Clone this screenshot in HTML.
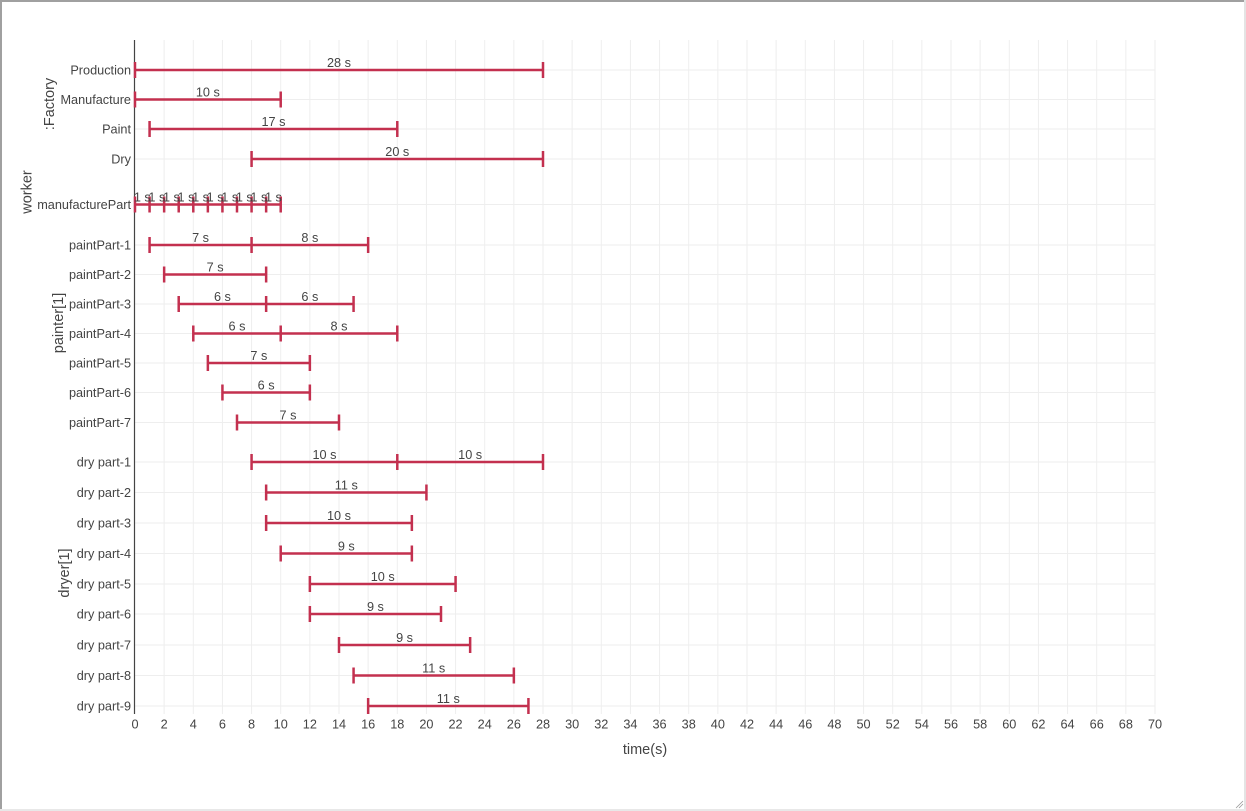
<!DOCTYPE html>
<html><head><meta charset="utf-8">
<style>
html,body{margin:0;padding:0;background:#fff;}
body{width:1246px;height:811px;overflow:hidden;position:relative;}
svg{position:absolute;left:0;top:0;}
text{font-family:"Liberation Sans","DejaVu Sans",sans-serif;fill:#444;}
</style></head>
<body>
<svg width="1246" height="811" viewBox="0 0 1246 811" xmlns="http://www.w3.org/2000/svg">
<rect x="0" y="0" width="1246" height="811" fill="#fff"/>
<!-- borders -->
<rect x="0" y="0" width="1246" height="2" fill="#a0a0a0"/>
<rect x="0" y="0" width="2" height="811" fill="#a0a0a0"/>
<rect x="1244" y="0" width="2" height="811" fill="#e4e4e4"/>
<rect x="0" y="809" width="1246" height="2" fill="#e8e8e8"/>
<line x1="1236" y1="808" x2="1243" y2="801" stroke="#999" stroke-width="0.8"/>
<line x1="1239" y1="808" x2="1243" y2="804" stroke="#999" stroke-width="0.8"/>

<!-- vertical gridlines -->
<g stroke="#eeeeee" stroke-width="1">
<line x1="164.14" y1="40" x2="164.14" y2="714"/>
<line x1="193.29" y1="40" x2="193.29" y2="714"/>
<line x1="222.43" y1="40" x2="222.43" y2="714"/>
<line x1="251.57" y1="40" x2="251.57" y2="714"/>
<line x1="280.71" y1="40" x2="280.71" y2="714"/>
<line x1="309.86" y1="40" x2="309.86" y2="714"/>
<line x1="339" y1="40" x2="339" y2="714"/>
<line x1="368.14" y1="40" x2="368.14" y2="714"/>
<line x1="397.29" y1="40" x2="397.29" y2="714"/>
<line x1="426.43" y1="40" x2="426.43" y2="714"/>
<line x1="455.57" y1="40" x2="455.57" y2="714"/>
<line x1="484.71" y1="40" x2="484.71" y2="714"/>
<line x1="513.86" y1="40" x2="513.86" y2="714"/>
<line x1="543" y1="40" x2="543" y2="714"/>
<line x1="572.14" y1="40" x2="572.14" y2="714"/>
<line x1="601.29" y1="40" x2="601.29" y2="714"/>
<line x1="630.43" y1="40" x2="630.43" y2="714"/>
<line x1="659.57" y1="40" x2="659.57" y2="714"/>
<line x1="688.71" y1="40" x2="688.71" y2="714"/>
<line x1="717.86" y1="40" x2="717.86" y2="714"/>
<line x1="747" y1="40" x2="747" y2="714"/>
<line x1="776.14" y1="40" x2="776.14" y2="714"/>
<line x1="805.29" y1="40" x2="805.29" y2="714"/>
<line x1="834.43" y1="40" x2="834.43" y2="714"/>
<line x1="863.57" y1="40" x2="863.57" y2="714"/>
<line x1="892.71" y1="40" x2="892.71" y2="714"/>
<line x1="921.86" y1="40" x2="921.86" y2="714"/>
<line x1="951" y1="40" x2="951" y2="714"/>
<line x1="980.14" y1="40" x2="980.14" y2="714"/>
<line x1="1009.29" y1="40" x2="1009.29" y2="714"/>
<line x1="1038.43" y1="40" x2="1038.43" y2="714"/>
<line x1="1067.57" y1="40" x2="1067.57" y2="714"/>
<line x1="1096.71" y1="40" x2="1096.71" y2="714"/>
<line x1="1125.86" y1="40" x2="1125.86" y2="714"/>
<line x1="1155" y1="40" x2="1155" y2="714"/>
</g>
<!-- horizontal gridlines -->
<g stroke="#eeeeee" stroke-width="1">
<line x1="135" y1="70" x2="1155" y2="70"/>
<line x1="135" y1="99.5" x2="1155" y2="99.5"/>
<line x1="135" y1="129" x2="1155" y2="129"/>
<line x1="135" y1="159" x2="1155" y2="159"/>
<line x1="135" y1="204.5" x2="1155" y2="204.5"/>
<line x1="135" y1="245" x2="1155" y2="245"/>
<line x1="135" y1="274.5" x2="1155" y2="274.5"/>
<line x1="135" y1="304" x2="1155" y2="304"/>
<line x1="135" y1="333.5" x2="1155" y2="333.5"/>
<line x1="135" y1="363" x2="1155" y2="363"/>
<line x1="135" y1="392.5" x2="1155" y2="392.5"/>
<line x1="135" y1="422.5" x2="1155" y2="422.5"/>
<line x1="135" y1="462" x2="1155" y2="462"/>
<line x1="135" y1="492.5" x2="1155" y2="492.5"/>
<line x1="135" y1="523" x2="1155" y2="523"/>
<line x1="135" y1="553.5" x2="1155" y2="553.5"/>
<line x1="135" y1="584" x2="1155" y2="584"/>
<line x1="135" y1="614" x2="1155" y2="614"/>
<line x1="135" y1="645" x2="1155" y2="645"/>
<line x1="135" y1="675.5" x2="1155" y2="675.5"/>
<line x1="135" y1="706" x2="1155" y2="706"/>
</g>

<!-- y axis line -->
<line x1="134.5" y1="40" x2="134.5" y2="714" stroke="#444" stroke-width="1.2"/>

<!-- bars -->
<g stroke="#c3304f" stroke-width="2.5" fill="none">
<line x1="135" y1="70" x2="543" y2="70"/><line x1="135" y1="62" x2="135" y2="78"/><line x1="543" y1="62" x2="543" y2="78"/>
<line x1="135" y1="99.5" x2="280.71" y2="99.5"/><line x1="135" y1="91.5" x2="135" y2="107.5"/><line x1="280.71" y1="91.5" x2="280.71" y2="107.5"/>
<line x1="149.57" y1="129" x2="397.29" y2="129"/><line x1="149.57" y1="121" x2="149.57" y2="137"/><line x1="397.29" y1="121" x2="397.29" y2="137"/>
<line x1="251.57" y1="159" x2="543" y2="159"/><line x1="251.57" y1="151" x2="251.57" y2="167"/><line x1="543" y1="151" x2="543" y2="167"/>
<line x1="135" y1="204.5" x2="280.71" y2="204.5"/>
<line x1="135" y1="196.5" x2="135" y2="212.5"/>
<line x1="149.57" y1="196.5" x2="149.57" y2="212.5"/>
<line x1="164.14" y1="196.5" x2="164.14" y2="212.5"/>
<line x1="178.71" y1="196.5" x2="178.71" y2="212.5"/>
<line x1="193.29" y1="196.5" x2="193.29" y2="212.5"/>
<line x1="207.86" y1="196.5" x2="207.86" y2="212.5"/>
<line x1="222.43" y1="196.5" x2="222.43" y2="212.5"/>
<line x1="237" y1="196.5" x2="237" y2="212.5"/>
<line x1="251.57" y1="196.5" x2="251.57" y2="212.5"/>
<line x1="266.14" y1="196.5" x2="266.14" y2="212.5"/>
<line x1="280.71" y1="196.5" x2="280.71" y2="212.5"/>
<line x1="149.57" y1="245" x2="368.14" y2="245"/><line x1="149.57" y1="237" x2="149.57" y2="253"/><line x1="251.57" y1="237" x2="251.57" y2="253"/><line x1="368.14" y1="237" x2="368.14" y2="253"/>
<line x1="164.14" y1="274.5" x2="266.14" y2="274.5"/><line x1="164.14" y1="266.5" x2="164.14" y2="282.5"/><line x1="266.14" y1="266.5" x2="266.14" y2="282.5"/>
<line x1="178.71" y1="304" x2="353.57" y2="304"/><line x1="178.71" y1="296" x2="178.71" y2="312"/><line x1="266.14" y1="296" x2="266.14" y2="312"/><line x1="353.57" y1="296" x2="353.57" y2="312"/>
<line x1="193.29" y1="333.5" x2="397.29" y2="333.5"/><line x1="193.29" y1="325.5" x2="193.29" y2="341.5"/><line x1="280.71" y1="325.5" x2="280.71" y2="341.5"/><line x1="397.29" y1="325.5" x2="397.29" y2="341.5"/>
<line x1="207.86" y1="363" x2="309.86" y2="363"/><line x1="207.86" y1="355" x2="207.86" y2="371"/><line x1="309.86" y1="355" x2="309.86" y2="371"/>
<line x1="222.43" y1="392.5" x2="309.86" y2="392.5"/><line x1="222.43" y1="384.5" x2="222.43" y2="400.5"/><line x1="309.86" y1="384.5" x2="309.86" y2="400.5"/>
<line x1="237" y1="422.5" x2="339" y2="422.5"/><line x1="237" y1="414.5" x2="237" y2="430.5"/><line x1="339" y1="414.5" x2="339" y2="430.5"/>
<line x1="251.57" y1="462" x2="543" y2="462"/><line x1="251.57" y1="454" x2="251.57" y2="470"/><line x1="397.29" y1="454" x2="397.29" y2="470"/><line x1="543" y1="454" x2="543" y2="470"/>
<line x1="266.14" y1="492.5" x2="426.43" y2="492.5"/><line x1="266.14" y1="484.5" x2="266.14" y2="500.5"/><line x1="426.43" y1="484.5" x2="426.43" y2="500.5"/>
<line x1="266.14" y1="523" x2="411.86" y2="523"/><line x1="266.14" y1="515" x2="266.14" y2="531"/><line x1="411.86" y1="515" x2="411.86" y2="531"/>
<line x1="280.71" y1="553.5" x2="411.86" y2="553.5"/><line x1="280.71" y1="545.5" x2="280.71" y2="561.5"/><line x1="411.86" y1="545.5" x2="411.86" y2="561.5"/>
<line x1="309.86" y1="584" x2="455.57" y2="584"/><line x1="309.86" y1="576" x2="309.86" y2="592"/><line x1="455.57" y1="576" x2="455.57" y2="592"/>
<line x1="309.86" y1="614" x2="441" y2="614"/><line x1="309.86" y1="606" x2="309.86" y2="622"/><line x1="441" y1="606" x2="441" y2="622"/>
<line x1="339" y1="645" x2="470.14" y2="645"/><line x1="339" y1="637" x2="339" y2="653"/><line x1="470.14" y1="637" x2="470.14" y2="653"/>
<line x1="353.57" y1="675.5" x2="513.86" y2="675.5"/><line x1="353.57" y1="667.5" x2="353.57" y2="683.5"/><line x1="513.86" y1="667.5" x2="513.86" y2="683.5"/>
<line x1="368.14" y1="706" x2="528.43" y2="706"/><line x1="368.14" y1="698" x2="368.14" y2="714"/><line x1="528.43" y1="698" x2="528.43" y2="714"/>
</g>

<!-- segment labels -->
<g font-size="12.7" text-anchor="middle">
<text x="339" y="67">28 s</text>
<text x="207.86" y="96.5">10 s</text>
<text x="273.43" y="126">17 s</text>
<text x="397.29" y="156">20 s</text>
<text x="142.29" y="201.5">1 s</text>
<text x="156.86" y="201.5">1 s</text>
<text x="171.43" y="201.5">1 s</text>
<text x="186" y="201.5">1 s</text>
<text x="200.57" y="201.5">1 s</text>
<text x="215.14" y="201.5">1 s</text>
<text x="229.71" y="201.5">1 s</text>
<text x="244.29" y="201.5">1 s</text>
<text x="258.86" y="201.5">1 s</text>
<text x="273.43" y="201.5">1 s</text>
<text x="200.57" y="242">7 s</text>
<text x="309.86" y="242">8 s</text>
<text x="215.14" y="271.5">7 s</text>
<text x="222.43" y="301">6 s</text>
<text x="309.86" y="301">6 s</text>
<text x="237" y="330.5">6 s</text>
<text x="339" y="330.5">8 s</text>
<text x="258.86" y="360">7 s</text>
<text x="266.14" y="389.5">6 s</text>
<text x="288" y="419.5">7 s</text>
<text x="324.43" y="459">10 s</text>
<text x="470.14" y="459">10 s</text>
<text x="346.29" y="489.5">11 s</text>
<text x="339" y="520">10 s</text>
<text x="346.29" y="550.5">9 s</text>
<text x="382.71" y="581">10 s</text>
<text x="375.43" y="611">9 s</text>
<text x="404.57" y="642">9 s</text>
<text x="433.71" y="672.5">11 s</text>
<text x="448.29" y="703">11 s</text>
</g>

<!-- row labels -->
<g font-size="12.7" text-anchor="end">
<text x="131" y="74.5">Production</text>
<text x="131" y="104">Manufacture</text>
<text x="131" y="133.5">Paint</text>
<text x="131" y="163.5">Dry</text>
<text x="131" y="209">manufacturePart</text>
<text x="131" y="249.5">paintPart-1</text>
<text x="131" y="279">paintPart-2</text>
<text x="131" y="308.5">paintPart-3</text>
<text x="131" y="338">paintPart-4</text>
<text x="131" y="367.5">paintPart-5</text>
<text x="131" y="397">paintPart-6</text>
<text x="131" y="427">paintPart-7</text>
<text x="131" y="466.5">dry part-1</text>
<text x="131" y="497">dry part-2</text>
<text x="131" y="527.5">dry part-3</text>
<text x="131" y="558">dry part-4</text>
<text x="131" y="588.5">dry part-5</text>
<text x="131" y="618.5">dry part-6</text>
<text x="131" y="649.5">dry part-7</text>
<text x="131" y="680">dry part-8</text>
<text x="131" y="710.5">dry part-9</text>
</g>

<!-- x tick labels -->
<g font-size="12.7" text-anchor="middle">
<text x="135" y="728.5">0</text>
<text x="164.14" y="728.5">2</text>
<text x="193.29" y="728.5">4</text>
<text x="222.43" y="728.5">6</text>
<text x="251.57" y="728.5">8</text>
<text x="280.71" y="728.5">10</text>
<text x="309.86" y="728.5">12</text>
<text x="339" y="728.5">14</text>
<text x="368.14" y="728.5">16</text>
<text x="397.29" y="728.5">18</text>
<text x="426.43" y="728.5">20</text>
<text x="455.57" y="728.5">22</text>
<text x="484.71" y="728.5">24</text>
<text x="513.86" y="728.5">26</text>
<text x="543" y="728.5">28</text>
<text x="572.14" y="728.5">30</text>
<text x="601.29" y="728.5">32</text>
<text x="630.43" y="728.5">34</text>
<text x="659.57" y="728.5">36</text>
<text x="688.71" y="728.5">38</text>
<text x="717.86" y="728.5">40</text>
<text x="747" y="728.5">42</text>
<text x="776.14" y="728.5">44</text>
<text x="805.29" y="728.5">46</text>
<text x="834.43" y="728.5">48</text>
<text x="863.57" y="728.5">50</text>
<text x="892.71" y="728.5">52</text>
<text x="921.86" y="728.5">54</text>
<text x="951" y="728.5">56</text>
<text x="980.14" y="728.5">58</text>
<text x="1009.29" y="728.5">60</text>
<text x="1038.43" y="728.5">62</text>
<text x="1067.57" y="728.5">64</text>
<text x="1096.71" y="728.5">66</text>
<text x="1125.86" y="728.5">68</text>
<text x="1155" y="728.5">70</text>
</g>

<!-- axis titles -->
<text x="645" y="754" font-size="14.5" text-anchor="middle">time(s)</text>
<text x="54" y="104" font-size="14.5" text-anchor="middle" transform="rotate(-90 54 104)">:Factory</text>
<text x="31.5" y="192" font-size="14.5" text-anchor="middle" transform="rotate(-90 31.5 192)">worker</text>
<text x="63" y="323" font-size="14.5" text-anchor="middle" transform="rotate(-90 63 323)">painter[1]</text>
<text x="69" y="573" font-size="14.5" text-anchor="middle" transform="rotate(-90 69 573)">dryer[1]</text>
</svg>
</body></html>
